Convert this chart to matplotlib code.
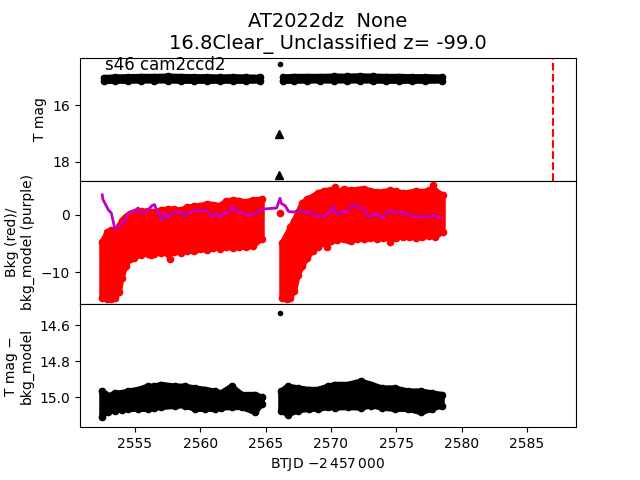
import matplotlib.pyplot as plt

# top panel: T mag band (bright edge / faint edge)
mag_t1 = [2552.6, 2553.5, 2554.5, 2555.5, 2556.5, 2557.5, 2558.5, 2559.5, 2560.5,
          2561.5, 2562.5, 2563.5, 2564.6]
mag_up1 = [15.03, 15.01, 15.00, 14.99, 14.99, 14.98, 14.99, 15.00, 15.00, 15.01,
           15.00, 15.01, 15.02]
mag_dn1 = [15.16, 15.15, 15.15, 15.14, 15.14, 15.14, 15.15, 15.15, 15.15, 15.15,
           15.15, 15.15, 15.14]
mag_t2 = [2566.3, 2567.2, 2568.2, 2569.2, 2570.2, 2571.2, 2572.2, 2573.2, 2574.2,
          2575.2, 2576.2, 2577.2, 2578.5]
mag_up2 = [15.01, 14.99, 14.99, 14.99, 14.98, 14.98, 14.97, 14.98, 14.99, 14.99,
           15.00, 15.00, 15.01]
mag_dn2 = [15.15, 15.15, 15.14, 15.14, 15.14, 15.14, 15.14, 15.14, 15.15, 15.15,
           15.15, 15.15, 15.14]
peak_t = [2566.1]
peak_mag = [14.56]
lim_t = [2566.0, 2566.0]
lim_mag = [17.02, 18.46]
disc_t = 2587.0

# middle panel: background (red) envelope and bkg_model (purple)
bkg_t1 = [2552.5, 2552.9, 2553.2, 2553.5, 2553.8, 2554.0, 2554.3, 2554.6, 2555.0,
          2555.5, 2556.0, 2556.5, 2557.0, 2557.5, 2558.0, 2558.5, 2559.0, 2559.5,
          2560.0, 2560.5, 2561.0, 2561.5, 2562.0, 2562.5, 2563.0, 2563.5, 2564.0,
          2564.7]
bkg_lo1 = [-14.6, -14.8, -14.7, -14.5, -13.5, -11.0, -9.0, -7.8, -7.2, -7.0, -6.8,
           -6.9, -6.6, -6.8, -6.5, -6.6, -6.3, -6.4, -6.0, -6.2, -5.8, -5.9, -5.7,
           -5.8, -5.6, -5.7, -5.5, -4.2]
bkg_hi1 = [-4.8, -3.0, -2.6, -3.0, -2.0, -1.0, -0.3, 0.2, 0.5, 0.6, 0.7, 0.5, 0.8,
           1.0, 1.0, 0.8, 1.3, 1.5, 1.6, 1.9, 1.8, 1.6, 2.4, 2.6, 2.5, 2.2, 2.6, 2.7]
bkg_t2 = [2566.25, 2566.6, 2566.9, 2567.2, 2567.5, 2567.8, 2568.2, 2568.6, 2569.0,
          2569.5, 2570.0, 2570.5, 2571.0, 2571.5, 2572.0, 2572.5, 2573.0, 2573.5,
          2574.0, 2574.5, 2575.0, 2575.5, 2576.0, 2576.5, 2577.0, 2577.5, 2578.0,
          2578.6]
bkg_lo2 = [-14.6, -14.7, -14.5, -13.3, -10.5, -9.0, -7.5, -6.3, -5.6, -5.0, -4.6,
           -4.4, -4.3, -4.5, -4.2, -4.3, -4.1, -4.2, -4.0, -4.2, -4.0, -3.8, -3.9,
           -4.1, -3.9, -3.7, -3.8, -3.0]
bkg_hi2 = [-5.0, -3.6, -2.2, -1.0, 0.5, 2.0, 2.8, 3.2, 3.8, 4.2, 4.4, 4.0, 4.5, 4.3,
           4.4, 4.6, 4.2, 4.0, 4.0, 4.3, 4.1, 3.8, 3.9, 4.2, 4.0, 4.3, 4.2, 3.4]
bkg_out_t = [2554.9, 2556.2, 2557.7, 2566.1, 2569.7, 2570.3, 2571.3, 2574.5, 2577.8]
bkg_out = [-7.6, -7.0, -7.7, 0.4, -5.6, 4.8, -4.4, -4.8, 5.2]

model_t = [2552.5, 2552.55, 2552.96, 2553.2, 2553.47, 2553.85, 2554.2, 2554.4,
           2554.75, 2555.0, 2555.25, 2555.4, 2555.6, 2555.9, 2556.3, 2556.5, 2556.65,
           2556.9, 2557.0, 2557.3, 2557.55, 2557.8, 2558.2, 2558.6, 2558.8, 2559.1,
           2559.5, 2559.7, 2560.1, 2560.5, 2560.9, 2561.25, 2561.5, 2561.9, 2562.3,
           2562.5, 2562.8, 2563.0, 2563.3, 2563.7, 2564.05, 2564.4, 2564.7, 2565.85,
           2566.1, 2566.2, 2566.5, 2566.75, 2567.1, 2567.5, 2567.75, 2568.1, 2568.5,
           2568.9, 2569.4, 2569.8, 2570.2, 2570.4, 2570.8, 2571.0, 2571.45, 2571.8,
           2572.1, 2572.5, 2572.7, 2573.1, 2573.5, 2573.9, 2574.25, 2574.6, 2574.9,
           2575.3, 2575.5, 2575.9, 2576.3, 2576.7, 2577.05, 2577.4, 2577.7, 2578.1,
           2578.45]
model = [3.5, 2.75, 0.9, 0.3, -2.5, -1.75, -1.35, 0.0, 0.6, 0.75, 1.2, 0.4, 0.3, 0.6,
         1.6, 1.8, 0.9, 0.0, -0.9, 0.3, -0.6, 0.3, 0.4, 0.6, -0.3, 0.3, 0.75, 1.0, 0.6,
         0.9, -0.3, 0.3, -0.4, 0.4, 0.6, 1.5, 0.6, 0.6, 0.3, 0.0, 0.0, 0.6, 1.0, 1.2,
         2.9, 2.0, 1.6, 0.6, 0.5, 0.6, 0.75, 0.3, 0.6, -0.3, -0.3, 0.3, 1.5, 0.0, 0.6,
         0.3, 1.2, 1.9, 1.2, 1.2, 0.0, -0.3, 0.3, -0.6, 0.3, 0.75, 0.3, 0.6, 0.0, 0.3,
         -0.3, -0.4, -0.3, -0.4, 0.0, -0.2, -0.6]

# bottom panel: T mag - bkg_model
diff_t1 = [2552.45, 2552.7, 2552.96, 2553.5, 2554.0, 2554.5, 2555.25, 2556.0, 2556.5,
           2557.0, 2558.1, 2558.8, 2559.6, 2560.4, 2561.1, 2561.6, 2562.4, 2563.2,
           2564.2, 2564.7]
diff_up1 = [14.967, 14.98, 14.995, 14.977, 14.977, 14.967, 14.958, 14.94, 14.94, 14.93,
            14.94, 14.94, 14.95, 14.958, 14.967, 14.977, 14.94, 14.986, 14.986, 15.0]
diff_dn1 = [15.11, 15.085, 15.08, 15.075, 15.07, 15.067, 15.067, 15.067, 15.06, 15.057,
            15.05, 15.047, 15.067, 15.067, 15.067, 15.06, 15.057, 15.057, 15.085, 15.04]
diff_t2 = [2566.2, 2566.7, 2567.5, 2568.3, 2569.0, 2569.8, 2570.3, 2571.3, 2572.3,
           2573.1, 2573.9, 2574.9, 2575.9, 2576.9, 2577.7, 2578.5]
diff_up2 = [14.967, 14.94, 14.95, 14.958, 14.958, 14.94, 14.93, 14.93, 14.912, 14.93,
            14.95, 14.95, 14.967, 14.967, 14.977, 14.986]
diff_dn2 = [15.075, 15.097, 15.075, 15.067, 15.067, 15.057, 15.06, 15.057, 15.06,
            15.047, 15.06, 15.067, 15.067, 15.085, 15.067, 15.047]
diff_peak_t = [2566.1]
diff_peak = [14.535]


def band(ax, t, a, b, c):
    # dense cloud of points drawn as a filled band with dotted rounded edges
    ax.fill_between(t, a, b, color=c, lw=0)
    for v in (a, b):
        ax.plot(t, v, color=c, lw=4, solid_capstyle='round', solid_joinstyle='round')
        ax.plot(t, v, 'o', color=c, ms=4.5)
    # round off the two ends of the band
    for i in (0, -1):
        ax.plot([t[i], t[i]], [a[i], b[i]], color=c, lw=4, solid_capstyle='round')


fig, axs = plt.subplots(3, 1, sharex=True, figsize=(6.4, 4.8), dpi=100)
plt.subplots_adjust(hspace=0)

# top
ax = axs[0]
band(ax, mag_t1, mag_up1, mag_dn1, 'k')
band(ax, mag_t2, mag_up2, mag_dn2, 'k')
ax.plot(peak_t, peak_mag, 'k.')
ax.plot(lim_t, lim_mag, 'k^')
ax.axvline(disc_t, color='r', ls='--')
ax.set_ylim(18.67, 14.32)
ax.set_ylabel('T mag')
ax.text(0.05, 0.9, 's46 cam2ccd2', transform=ax.transAxes, fontsize=12)
ax.set_title('AT2022dz  None\n16.8Clear_ Unclassified z= -99.0', fontsize=14)

# middle
ax = axs[1]
band(ax, bkg_t1, bkg_lo1, bkg_hi1, 'r')
band(ax, bkg_t2, bkg_lo2, bkg_hi2, 'r')
ax.plot(bkg_out_t, bkg_out, 'ro', ms=4.5)
ax.plot(model_t, model, 'm', lw=2)
ax.set_ylim(-15.6, 5.96)
ax.set_ylabel('Bkg (red)/\nbkg_model (purple)')

# bottom
ax = axs[2]
band(ax, diff_t1, diff_up1, diff_dn1, 'k')
band(ax, diff_t2, diff_up2, diff_dn2, 'k')
ax.plot(diff_peak_t, diff_peak, 'k.')
ax.set_ylim(15.167, 14.483)
ax.set_yticks([14.6, 14.8, 15.0])
ax.set_ylabel('T mag \u2212\nbkg_model')
ax.set_xlabel(r'BTJD $-2\,457\,000$')

ax.set_xlim(2550.8, 2588.75)

plt.savefig('out.png')
